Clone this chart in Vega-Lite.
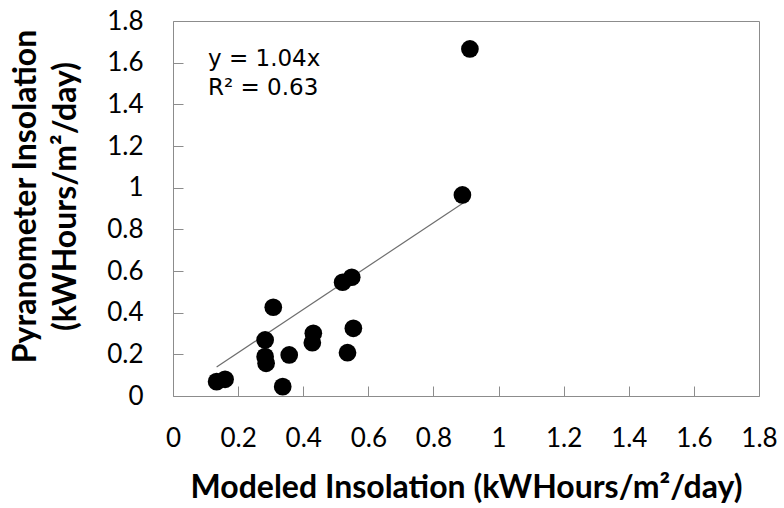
{
  "$schema": "https://vega.github.io/schema/vega-lite/v6.json",
  "autosize": "none",
  "width": 586,
  "height": 375,
  "padding": {"left": 173, "top": 21, "right": 25, "bottom": 112},
  "background": "white",
  "config": {
    "view": {"stroke": "#8c8c8c", "strokeWidth": 1},
    "font": "Lato"
  },
  "datasets": {
    "points": [
      {"modeled": 0.134, "pyranometer": 0.069},
      {"modeled": 0.160, "pyranometer": 0.080},
      {"modeled": 0.308, "pyranometer": 0.426},
      {"modeled": 0.283, "pyranometer": 0.269},
      {"modeled": 0.283, "pyranometer": 0.189},
      {"modeled": 0.286, "pyranometer": 0.157},
      {"modeled": 0.337, "pyranometer": 0.045},
      {"modeled": 0.357, "pyranometer": 0.197},
      {"modeled": 0.431, "pyranometer": 0.301},
      {"modeled": 0.428, "pyranometer": 0.256},
      {"modeled": 0.521, "pyranometer": 0.546},
      {"modeled": 0.549, "pyranometer": 0.570},
      {"modeled": 0.554, "pyranometer": 0.325},
      {"modeled": 0.536, "pyranometer": 0.208},
      {"modeled": 0.889, "pyranometer": 0.965},
      {"modeled": 0.912, "pyranometer": 1.666}
    ],
    "trend": [
      {"modeled": 0.134, "pyranometer": 0.139},
      {"modeled": 0.912, "pyranometer": 0.948}
    ],
    "labels": [
      {"modeled": 0.1075, "pyranometer": 1.584, "text": "y = 1.04x"},
      {"modeled": 0.1075, "pyranometer": 1.445, "text": "R² = 0.63"}
    ]
  },
  "layer": [
    {
      "data": {"name": "trend"},
      "mark": {"type": "line", "color": "#6e6e6e", "strokeWidth": 1.2},
      "encoding": {
        "x": {"field": "modeled", "type": "quantitative"},
        "y": {"field": "pyranometer", "type": "quantitative"}
      }
    },
    {
      "data": {"name": "points"},
      "mark": {"type": "circle", "color": "black", "opacity": 1, "size": 314},
      "encoding": {
        "x": {
          "field": "modeled",
          "type": "quantitative",
          "scale": {"domain": [0, 1.8], "nice": false, "zero": true},
          "axis": {
            "title": "Modeled Insolation (kWHours/m²/day)",
            "values": [0, 0.2, 0.4, 0.6, 0.8, 1, 1.2, 1.4, 1.6, 1.8],
            "format": "~g",
            "grid": false,
            "domain": false,
            "tickColor": "#8c8c8c",
            "tickSize": -10,
            "labelPadding": 39,
            "labelFont": "Lato",
            "labelFontSize": 26,
            "labelColor": "black",
            "labelFlush": false,
            "labelOverlap": false,
            "titleFont": "Lato",
            "titleFontSize": 32,
            "titleFontWeight": "bold",
            "titleColor": "black",
            "titleBaseline": "alphabetic",
            "titleY": 101
          }
        },
        "y": {
          "field": "pyranometer",
          "type": "quantitative",
          "scale": {"domain": [0, 1.8], "nice": false, "zero": true},
          "axis": {
            "title": ["Pyranometer Insolation", "(kWHours/m²/day)"],
            "values": [0, 0.2, 0.4, 0.6, 0.8, 1, 1.2, 1.4, 1.6, 1.8],
            "format": "~g",
            "grid": false,
            "domain": false,
            "tickColor": "#8c8c8c",
            "tickSize": -10,
            "labelPadding": 40,
            "labelFont": "Lato",
            "labelFontSize": 26,
            "labelColor": "black",
            "labelFlush": false,
            "labelOverlap": false,
            "titleFont": "Lato",
            "titleFontSize": 32,
            "titleFontWeight": "bold",
            "titleColor": "black",
            "titleAngle": -90,
            "titleAlign": "center",
            "titleBaseline": "alphabetic",
            "titleLineHeight": 40,
            "titleX": -138,
            "titleY": 175
          }
        }
      }
    },
    {
      "data": {"name": "labels"},
      "mark": {"type": "text", "align": "left", "baseline": "alphabetic", "font": "DejaVu Sans", "fontSize": 23, "color": "black"},
      "encoding": {
        "x": {"field": "modeled", "type": "quantitative"},
        "y": {"field": "pyranometer", "type": "quantitative"},
        "text": {"field": "text"}
      }
    }
  ]
}
